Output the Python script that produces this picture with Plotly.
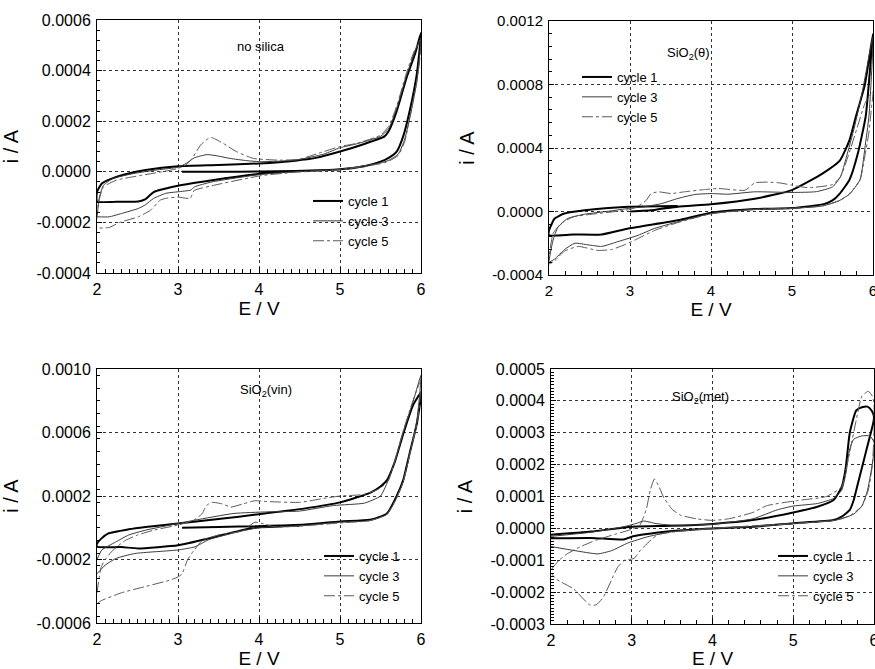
import plotly.graph_objects as go

# ---------------- DATA (E in V, i in A) ----------------
x_tickvals = [2, 3, 4, 5, 6]
x_ticktext = ["2", "3", "4", "5", "6"]

p1_yticks = [-4e-4, -2e-4, 0.0, 2e-4, 4e-4, 6e-4]
p1_ytext = ["-0.0004", "-0.0002", "0.0000", "0.0002", "0.0004", "0.0006"]
p2_yticks = [-4e-4, 0.0, 4e-4, 8e-4, 12e-4]
p2_ytext = ["-0.0004", "0.0000", "0.0004", "0.0008", "0.0012"]
p3_yticks = [-6e-4, -2e-4, 2e-4, 6e-4, 10e-4]
p3_ytext = ["-0.0006", "-0.0002", "0.0002", "0.0006", "0.0010"]
p4_yticks = [-3e-4, -2e-4, -1e-4, 0.0, 1e-4, 2e-4, 3e-4, 4e-4, 5e-4]
p4_ytext = ["-0.0003", "-0.0002", "-0.0001", "0.0000", "0.0001", "0.0002", "0.0003", "0.0004", "0.0005"]

cycle_names = ["cycle 1", "cycle 3", "cycle 5"]
panel_titles = ["no silica", "SiO<sub>2</sub>(θ)", "SiO<sub>2</sub>(vin)", "SiO<sub>2</sub>(met)"]

# Panel 1: no silica
p1_c1_E = [3.05, 3.5, 4.0, 4.45, 5.0, 5.3, 5.5, 5.6, 5.7, 5.78, 5.86, 5.95, 6.0,
           5.93, 5.82, 5.7, 5.6, 5.55, 5.3, 5.0, 4.7, 4.45, 4.0, 3.5, 3.0, 2.6, 2.39, 2.19, 2.06, 2.0,
           2.0, 2.3, 2.51, 2.6, 2.7, 3.0, 3.42, 4.03, 4.45]
p1_c1_I = [0.0, 0.0, 0.1e-5, 0.3e-5, 1.0e-5, 2.2e-5, 4.0e-5, 5.5e-5, 8.0e-5, 1.4e-4, 2.4e-4, 3.9e-4, 5.5e-4,
           4.7e-4, 3.7e-4, 2.4e-4, 1.6e-4, 1.4e-4, 1.1e-4, 0.8e-4, 0.55e-4, 0.44e-4, 0.33e-4, 0.27e-4, 0.22e-4, 0.07e-4, -0.07e-4, -0.26e-4, -0.46e-4, -0.8e-4,
           -1.17e-4, -1.18e-4, -1.17e-4, -1.08e-4, -0.8e-4, -0.55e-4, -0.33e-4, -0.07e-4, 0.03e-4]
p1_c3_E = [2.0, 2.03, 2.08, 2.2, 2.45, 2.75, 3.0, 3.1, 3.2, 3.36, 3.5, 3.64, 3.85, 4.03, 4.45, 4.8, 5.0, 5.2, 5.5, 5.6, 5.7, 5.82, 5.93, 6.0,
           5.98, 5.95, 5.88, 5.8, 5.72, 5.6, 5.5, 5.0, 4.45, 4.03, 3.42, 3.2, 3.16, 3.0, 2.85, 2.7, 2.6, 2.51, 2.3, 2.15, 2.0]
p1_c3_I = [-1.8e-4, -1.0e-4, -0.53e-4, -0.26e-4, -0.07e-4, 0.08e-4, 0.18e-4, 0.33e-4, 0.55e-4, 0.68e-4, 0.62e-4, 0.53e-4, 0.44e-4, 0.40e-4, 0.46e-4, 0.7e-4, 0.95e-4, 1.1e-4, 1.4e-4, 1.7e-4, 2.5e-4, 3.8e-4, 4.8e-4, 5.3e-4,
           4.5e-4, 3.6e-4, 2.4e-4, 1.3e-4, 0.7e-4, 0.45e-4, 0.35e-4, 0.1e-4, 0.0, -0.1e-4, -0.4e-4, -0.6e-4, -0.72e-4, -0.79e-4, -0.85e-4, -1.05e-4, -1.3e-4, -1.45e-4, -1.65e-4, -1.78e-4, -1.78e-4]
p1_c5_E = [2.0, 2.02, 2.08, 2.24, 2.51, 2.8, 3.0, 3.1, 3.16, 3.28, 3.38, 3.42, 3.56, 3.72, 3.93, 4.26, 4.5, 4.8, 5.0, 5.2, 5.5, 5.6, 5.7, 5.82, 5.92, 6.0,
           5.98, 5.94, 5.87, 5.8, 5.72, 5.6, 5.5, 5.0, 4.45, 4.03, 3.42, 3.2, 3.15, 3.0, 2.85, 2.78, 2.66, 2.51, 2.28, 2.15, 2.0]
p1_c5_I = [-2.2e-4, -1.2e-4, -0.6e-4, -0.33e-4, -0.16e-4, 0.0, 0.13e-4, 0.28e-4, 0.46e-4, 1.06e-4, 1.33e-4, 1.35e-4, 1.12e-4, 0.8e-4, 0.53e-4, 0.46e-4, 0.5e-4, 0.8e-4, 1.0e-4, 1.12e-4, 1.45e-4, 1.8e-4, 2.6e-4, 3.9e-4, 4.8e-4, 5.2e-4,
           4.3e-4, 3.4e-4, 2.3e-4, 1.2e-4, 0.65e-4, 0.42e-4, 0.32e-4, 0.08e-4, -0.02e-4, -0.15e-4, -0.55e-4, -0.74e-4, -1.05e-4, -1.0e-4, -1.05e-4, -1.12e-4, -1.52e-4, -1.78e-4, -2.0e-4, -2.2e-4, -2.2e-4]

# Panel 2: SiO2(theta)
p2_c1_E = [3.0, 3.3, 3.59, 4.0, 4.54, 5.0, 5.38, 5.59, 5.71, 5.79, 5.9, 6.0,
           5.98, 5.91, 5.81, 5.71, 5.59, 5.5, 5.38, 5.0, 4.54, 4.0, 3.59, 2.98, 2.65, 2.3, 2.0,
           2.0, 2.07, 2.19, 2.44, 2.98, 3.59]
p2_c1_I = [0.0, 0.1e-4, 0.3e-4, 0.45e-4, 0.8e-4, 1.35e-4, 2.4e-4, 3.2e-4, 4.5e-4, 6.0e-4, 8.0e-4, 11.2e-4,
           10.0e-4, 6.0e-4, 3.6e-4, 2.0e-4, 1.13e-4, 0.7e-4, 0.45e-4, 0.22e-4, 0.15e-4, -0.08e-4, -0.55e-4, -1.07e-4, -1.45e-4, -1.45e-4, -1.5e-4,
           -1.2e-4, -0.44e-4, -0.13e-4, 0.08e-4, 0.3e-4, 0.35e-4]
p2_c3_E = [2.0, 2.05, 2.11, 2.23, 2.44, 2.77, 2.98, 3.18, 3.39, 3.59, 3.8, 4.0, 4.21, 4.54, 5.0, 5.3, 5.5, 5.6, 5.67, 5.77, 5.87, 6.0,
           5.98, 5.95, 5.9, 5.84, 5.71, 5.59, 5.38, 5.0, 4.54, 4.0, 3.59, 3.3, 3.1, 2.85, 2.65, 2.48, 2.32, 2.19, 2.07, 2.0]
p2_c3_I = [-3.1e-4, -1.8e-4, -1.0e-4, -0.44e-4, -0.17e-4, 0.04e-4, 0.19e-4, 0.3e-4, 0.5e-4, 0.82e-4, 1.07e-4, 1.13e-4, 1.09e-4, 1.24e-4, 1.2e-4, 1.25e-4, 1.55e-4, 2.2e-4, 3.4e-4, 5.3e-4, 7.6e-4, 11.0e-4,
           8.5e-4, 6.0e-4, 4.0e-4, 2.0e-4, 1.1e-4, 0.7e-4, 0.35e-4, 0.2e-4, 0.15e-4, -0.13e-4, -0.65e-4, -1.07e-4, -1.5e-4, -1.9e-4, -2.2e-4, -2.1e-4, -2.0e-4, -2.4e-4, -3.0e-4, -3.2e-4]
p2_c5_E = [2.0, 2.05, 2.15, 2.3, 2.6, 3.0, 3.1, 3.2, 3.26, 3.35, 3.51, 3.67, 3.92, 4.09, 4.42, 4.54, 4.7, 4.85, 5.0, 5.2, 5.5, 5.6, 5.7, 5.8, 5.9, 6.0,
           5.98, 5.95, 5.9, 5.84, 5.71, 5.59, 5.38, 5.0, 4.54, 4.0, 3.59, 3.3, 3.06, 2.93, 2.77, 2.6, 2.36, 2.19, 2.07, 2.0]
p2_c5_I = [-3.3e-4, -1.4e-4, -0.75e-4, -0.34e-4, -0.13e-4, 0.13e-4, 0.34e-4, 0.7e-4, 1.13e-4, 1.24e-4, 1.13e-4, 1.24e-4, 1.38e-4, 1.45e-4, 1.34e-4, 1.8e-4, 1.85e-4, 1.8e-4, 1.66e-4, 1.5e-4, 1.7e-4, 2.2e-4, 3.6e-4, 5.2e-4, 6.8e-4, 7.6e-4,
           6.5e-4, 5.0e-4, 3.5e-4, 2.0e-4, 1.1e-4, 0.7e-4, 0.35e-4, 0.2e-4, 0.12e-4, -0.15e-4, -0.7e-4, -1.2e-4, -1.8e-4, -2.1e-4, -2.4e-4, -2.45e-4, -2.2e-4, -2.5e-4, -3.1e-4, -3.3e-4]

# Panel 3: SiO2(vin)
p3_c1_E = [3.05, 3.5, 4.0, 4.57, 5.0, 5.37, 5.58, 5.7, 5.78, 5.86, 5.95, 6.0,
           5.9, 5.78, 5.68, 5.58, 5.5, 5.37, 5.0, 4.57, 4.0, 3.5, 3.0, 2.6, 2.39, 2.14, 2.05, 2.0,
           2.0, 2.3, 2.51, 3.0, 3.38, 3.79, 3.95, 4.5]
p3_c1_I = [0.0, 0.05e-4, 0.1e-4, 0.2e-4, 0.4e-4, 0.5e-4, 0.9e-4, 2.0e-4, 3.0e-4, 4.7e-4, 6.6e-4, 8.5e-4,
           7.7e-4, 5.9e-4, 4.2e-4, 3.0e-4, 2.6e-4, 2.2e-4, 1.6e-4, 1.22e-4, 0.85e-4, 0.55e-4, 0.27e-4, 0.05e-4, -0.1e-4, -0.36e-4, -0.7e-4, -1.0e-4,
           -1.2e-4, -1.22e-4, -1.3e-4, -1.1e-4, -0.67e-4, -0.15e-4, 0.0, 0.12e-4]
p3_c3_E = [2.0, 2.06, 2.23, 2.39, 2.6, 3.0, 3.21, 3.69, 4.1, 4.5, 4.92, 5.3, 5.5, 5.58, 5.68, 5.78, 5.9, 6.0,
           5.95, 5.86, 5.78, 5.7, 5.58, 5.37, 5.0, 4.5, 4.0, 3.79, 3.38, 3.21, 3.0, 2.47, 2.23, 2.1, 2.0]
p3_c3_I = [-2.0e-4, -1.4e-4, -0.9e-4, -0.46e-4, -0.15e-4, 0.27e-4, 0.48e-4, 0.9e-4, 1.0e-4, 1.05e-4, 1.4e-4, 1.55e-4, 2.0e-4, 2.8e-4, 4.2e-4, 6.0e-4, 7.9e-4, 9.6e-4,
           6.8e-4, 4.6e-4, 2.9e-4, 1.9e-4, 0.85e-4, 0.45e-4, 0.35e-4, 0.12e-4, 0.0, -0.2e-4, -0.75e-4, -1.2e-4, -1.4e-4, -1.62e-4, -1.94e-4, -2.36e-4, -2.9e-4]
p3_c5_E = [2.0, 2.05, 2.1, 2.2, 2.35, 2.5, 2.7, 3.0, 3.2, 3.3, 3.35, 3.42, 3.55, 3.65, 3.8, 3.95, 4.1, 4.5, 4.8, 5.0, 5.3, 5.5, 5.6, 5.68, 5.78, 5.9, 6.0,
           5.96, 5.86, 5.78, 5.7, 5.58, 5.37, 5.0, 4.5, 4.2, 4.05, 3.95, 3.85, 3.8, 3.5, 3.3, 3.2, 3.12, 3.05, 3.0, 2.9, 2.6, 2.3, 2.05, 2.0]
p3_c5_I = [-4.1e-4, -2.5e-4, -2.0e-4, -1.4e-4, -0.8e-4, -0.46e-4, -0.15e-4, 0.17e-4, 0.5e-4, 0.9e-4, 1.4e-4, 1.6e-4, 1.5e-4, 1.3e-4, 1.5e-4, 1.7e-4, 1.65e-4, 1.6e-4, 1.85e-4, 2.0e-4, 2.1e-4, 2.5e-4, 3.0e-4, 4.3e-4, 6.1e-4, 8.0e-4, 9.3e-4,
           6.8e-4, 4.6e-4, 2.9e-4, 1.9e-4, 0.85e-4, 0.45e-4, 0.3e-4, 0.1e-4, 0.05e-4, 0.25e-4, 0.35e-4, 0.0, -0.2e-4, -0.46e-4, -0.8e-4, -1.4e-4, -2.0e-4, -2.9e-4, -3.1e-4, -3.3e-4, -3.7e-4, -4.1e-4, -4.6e-4, -4.8e-4]

# Panel 4: SiO2(met)
p4_c1_E = [2.0, 2.5, 3.0, 3.5, 4.0, 4.5, 5.0, 5.3, 5.5, 5.6, 5.65, 5.7, 5.78, 5.85, 5.92, 5.97, 6.0,
           5.99, 5.9, 5.8, 5.75, 5.7, 5.6, 5.5, 5.0, 4.5, 4.0, 3.5, 3.3, 3.0, 2.9, 2.5, 2.0]
p4_c1_I = [-0.2e-4, -0.1e-4, 0.05e-4, 0.08e-4, 0.14e-4, 0.26e-4, 0.5e-4, 0.68e-4, 0.89e-4, 1.3e-4, 1.9e-4, 3.0e-4, 3.7e-4, 3.8e-4, 3.82e-4, 3.7e-4, 3.5e-4,
           3.3e-4, 2.4e-4, 1.4e-4, 0.9e-4, 0.58e-4, 0.37e-4, 0.26e-4, 0.16e-4, 0.05e-4, 0.0, -0.08e-4, -0.14e-4, -0.26e-4, -0.35e-4, -0.3e-4, -0.31e-4]
p4_c3_E = [2.0, 2.5, 2.9, 3.05, 3.15, 3.3, 3.5, 4.0, 4.5, 4.8, 5.0, 5.3, 5.5, 5.6, 5.65, 5.7, 5.75, 5.85, 5.95, 6.0,
           5.99, 5.92, 5.85, 5.75, 5.6, 5.5, 5.0, 4.5, 4.0, 3.5, 3.4, 3.2, 2.95, 2.75, 2.58, 2.3, 2.0]
p4_c3_I = [-0.25e-4, -0.12e-4, 0.05e-4, 0.15e-4, 0.23e-4, 0.15e-4, 0.1e-4, 0.13e-4, 0.3e-4, 0.58e-4, 0.7e-4, 0.78e-4, 0.94e-4, 1.2e-4, 1.7e-4, 2.5e-4, 2.8e-4, 2.9e-4, 2.9e-4, 2.7e-4,
           2.2e-4, 1.2e-4, 0.7e-4, 0.45e-4, 0.3e-4, 0.25e-4, 0.15e-4, 0.05e-4, 0.0, -0.1e-4, -0.15e-4, -0.26e-4, -0.46e-4, -0.7e-4, -0.8e-4, -0.7e-4, -0.57e-4]
p4_c5_E = [2.0, 2.1, 2.2, 2.36, 2.56, 2.8, 3.0, 3.1, 3.18, 3.23, 3.28, 3.33, 3.4, 3.5, 3.6, 3.8, 4.0, 4.2, 4.5, 4.67, 5.04, 5.41, 5.6, 5.65, 5.7, 5.78, 5.85, 5.93, 5.98, 6.0,
           6.0, 5.98, 5.93, 5.85, 5.7, 5.5, 5.0, 4.5, 4.0, 3.5, 3.32, 3.24, 3.11, 3.03, 2.96, 2.91, 2.83, 2.77, 2.65, 2.56, 2.48, 2.28, 2.07, 2.0]
p4_c5_I = [-1.3e-4, -1.0e-4, -0.8e-4, -0.58e-4, -0.37e-4, -0.18e-4, -0.03e-4, 0.1e-4, 0.6e-4, 1.2e-4, 1.55e-4, 1.35e-4, 0.95e-4, 0.6e-4, 0.42e-4, 0.3e-4, 0.25e-4, 0.3e-4, 0.5e-4, 0.71e-4, 0.87e-4, 1.0e-4, 1.3e-4, 1.8e-4, 2.4e-4, 3.4e-4, 4.15e-4, 4.3e-4, 4.15e-4, 3.9e-4,
           3.0e-4, 2.0e-4, 1.2e-4, 0.7e-4, 0.4e-4, 0.25e-4, 0.15e-4, 0.08e-4, 0.0, -0.12e-4, -0.2e-4, -0.36e-4, -0.68e-4, -0.94e-4, -0.98e-4, -1.0e-4, -1.2e-4, -1.5e-4, -2.15e-4, -2.4e-4, -2.4e-4, -1.9e-4, -1.6e-4, -1.4e-4]

# ---------------- LAYOUT HELPERS ----------------
W, H = 875, 669
FONT = "Liberation Sans, Arial, Helvetica, sans-serif"


def px(x):
    return x / W


def py(y):
    return 1 - y / H


panels = [
    dict(n="", box=(97, 20, 421, 273), yr=[-4e-4, 6e-4], yt=(p1_yticks, p1_ytext), xminor=0.1, yminor=0.4e-4,
         data=[(p1_c1_E, p1_c1_I), (p1_c3_E, p1_c3_I), (p1_c5_E, p1_c5_I)],
         title_xy=(235, 37), legend_xy=(308, 186), tfs=16),
    dict(n="2", box=(549, 21, 873, 275), yr=[-4e-4, 12e-4], yt=(p2_yticks, p2_ytext), xminor=0.2, yminor=0.8e-4,
         data=[(p2_c1_E, p2_c1_I), (p2_c3_E, p2_c3_I), (p2_c5_E, p2_c5_I)],
         title_xy=(712, 43), legend_xy=(577, 62), tfs=15),
    dict(n="3", box=(97, 369, 421, 623), yr=[-6e-4, 10e-4], yt=(p3_yticks, p3_ytext), xminor=0.1, yminor=0.8e-4,
         data=[(p3_c1_E, p3_c1_I), (p3_c3_E, p3_c3_I), (p3_c5_E, p3_c5_I)],
         title_xy=(238, 390), legend_xy=(319, 541), tfs=16),
    dict(n="4", box=(551, 369, 874, 624), yr=[-3e-4, 5e-4], yt=(p4_yticks, p4_ytext), xminor=0.2, yminor=0.1e-4,
         data=[(p4_c1_E, p4_c1_I), (p4_c3_E, p4_c3_I), (p4_c5_E, p4_c5_I)],
         title_xy=(731, 397), legend_xy=(773, 541), tfs=16),
]

styles = [
    dict(color="#000000", width=2.0, dash="solid"),
    dict(color="#3a3a3a", width=1.0, dash="solid"),
    dict(color="#5a5a5a", width=1.0, dash="11px,3px,3px,3px"),
]

fig = go.Figure()
layout = dict(
    width=W, height=H, autosize=False,
    margin=dict(l=0, r=0, t=0, b=0),
    paper_bgcolor="white", plot_bgcolor="white",
    font=dict(family=FONT, color="black", size=14),
    template="none",
    annotations=[], shapes=[],
)

for i, p in enumerate(panels):
    n = p["n"]
    x0, y0, x1, y1 = p["box"]
    xa = "xaxis" + n
    ya = "yaxis" + n
    lg = "legend" + n
    for k, (E, I) in enumerate(p["data"]):
        fig.add_trace(go.Scatter(
            x=E, y=I, mode="lines", name=cycle_names[k],
            line=dict(color=styles[k]["color"], width=styles[k]["width"], dash=styles[k]["dash"],
                      shape="spline", smoothing=0.5),
            xaxis="x" + n, yaxis="y" + n, legend=lg, showlegend=True,
        ))
    common = dict(showline=True, linecolor="black", linewidth=1, mirror=True,
                  showgrid=True, gridcolor="#333333", griddash="dot", gridwidth=1,
                  zeroline=False, ticks="inside", tickcolor="black", automargin=False)
    layout[xa] = dict(
        domain=[px(x0), px(x1)], range=[2, 6], anchor="y" + n,
        tickmode="array", tickvals=x_tickvals, ticktext=x_ticktext, ticklen=6,
        tickfont=dict(size=p["tfs"], family=FONT), ticklabelstandoff=2, ticklabeloverflow="allow",
        minor=dict(tickmode="linear", tick0=2, dtick=p["xminor"], ticks="inside", ticklen=4,
                   tickcolor="black", showgrid=False),
        title=dict(text="E / V", font=dict(size=19, family=FONT), standoff=2),
        **common)
    layout[ya] = dict(
        domain=[py(y1), py(y0)], range=p["yr"], anchor="x" + n,
        tickmode="array", tickvals=p["yt"][0], ticktext=p["yt"][1], ticklen=5,
        tickfont=dict(size=p["tfs"], family=FONT), ticklabelstandoff=2,
        minor=dict(tickmode="linear", tick0=0, dtick=p["yminor"], ticks="inside", ticklen=3,
                   tickcolor="black", showgrid=False),
        title=dict(text="i / A", font=dict(size=20, family=FONT), standoff=12),
        **common)
    lx, ly = p["legend_xy"]
    layout[lg] = dict(x=px(lx), y=py(ly), xanchor="left", yanchor="top",
                      bgcolor="rgba(0,0,0,0)", borderwidth=0,
                      font=dict(size=13, family=FONT), tracegroupgap=0, itemwidth=30)
    tx, ty = p["title_xy"]
    layout["annotations"].append(dict(
        x=px(tx), y=py(ty), xref="paper", yref="paper", text=panel_titles[i],
        font=dict(size=13, family=FONT), showarrow=False))

# white patches hiding parts of the grid behind the original text boxes
hide_boxes = [
    (192, 22, 317, 82), (336, 192, 346, 271),
    (588, 72, 670, 123), (680, 30, 745, 68),
    (335, 543, 347, 621),
    (685, 385, 783, 414), (789, 543, 800, 622), (786, 553, 860, 566),
]
for bx0, by0, bx1, by1 in hide_boxes:
    layout["shapes"].append(dict(type="rect", xref="paper", yref="paper",
                                 x0=px(bx0), x1=px(bx1), y0=py(by1), y1=py(by0),
                                 fillcolor="white", line=dict(width=0), layer="between"))

fig.update_layout(**layout)
# remove the default 8px page margin so the 875x669 figure fills the window exactly
fig.write_html("out.html",
               config={"displayModeBar": False},
               post_script="document.body.style.margin='0';document.body.style.overflow='hidden';"
                           "document.documentElement.style.overflow='hidden';")
